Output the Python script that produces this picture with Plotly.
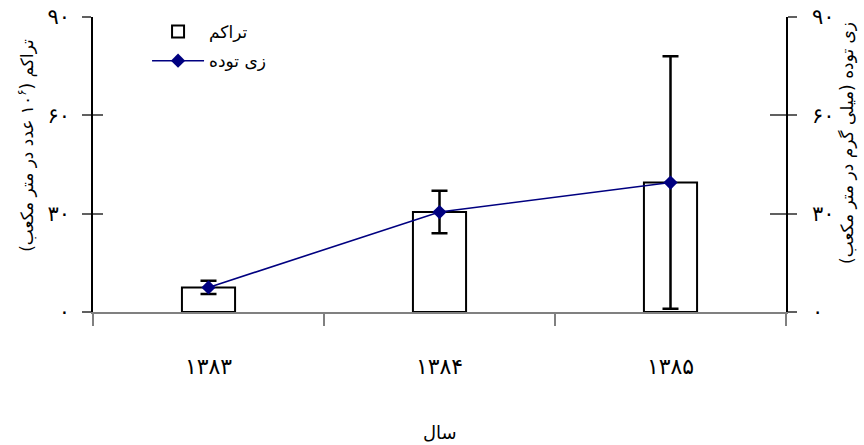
import plotly.graph_objects as go

years = ["۱۳۸۳", "۱۳۸۴", "۱۳۸۵"]
density = [7.5, 30.5, 39.5]          # تراکم (bars, left axis)
biomass = [7.5, 30.5, 39.5]          # زی توده (line, right axis)
biomass_err = [2.0, 6.5, 38.5]
ytick_vals = [0, 30, 60, 90]
ytick_text = ["۰", "۳۰", "۶۰", "۹۰"]

xpos = list(range(len(years)))
FONT = "DejaVu Sans"

fig = go.Figure()
fig.add_trace(go.Bar(
    x=xpos, y=density, name="تراکم", width=0.23, legendgroup="a",
    marker=dict(color="white", line=dict(color="black", width=2)),
    yaxis="y",
))
fig.add_trace(go.Scatter(
    x=xpos, y=biomass, name="زی توده", mode="lines+markers", legendgroup="b",
    line=dict(color="#000080", width=1.6),
    marker=dict(symbol="diamond", size=11, color="#000080"),
    error_y=dict(type="data", array=biomass_err, color="black", thickness=2.5, width=8),
    yaxis="y2",
))
# invisible helper traces for inside tick overlays
fig.add_trace(go.Scatter(x=xpos, y=biomass, xaxis="x2", yaxis="y3", mode="none",
                         showlegend=False, hoverinfo="skip"))
fig.add_trace(go.Scatter(x=xpos, y=biomass, xaxis="x2", yaxis="y4", mode="none",
                         showlegend=False, hoverinfo="skip"))

xr = [-0.5, len(years) - 0.5]
bounds = [i - 0.5 for i in range(len(years) + 1)]

fig.update_layout(
    width=864, height=445,
    margin=dict(l=93, r=78, t=17, b=133, autoexpand=False),
    paper_bgcolor="white", plot_bgcolor="white",
    font=dict(family=FONT, size=16, color="black"),
    showlegend=True,
    legend=dict(x=0.078, y=1.01, xanchor="left", yanchor="top",
                bgcolor="rgba(0,0,0,0)", itemwidth=52, traceorder="grouped",
                font=dict(size=17), tracegroupgap=4),
    xaxis=dict(range=xr, tickmode="array", tickvals=xpos, ticktext=years,
               showline=True, linecolor="#808080", linewidth=2, automargin=False,
               showgrid=False, zeroline=False, ticks="", ticklabelstandoff=34,
               tickfont=dict(size=22)),
    xaxis2=dict(range=xr, overlaying="x", anchor="y", tickmode="array", automargin=False,
                tickvals=bounds, ticks="outside", ticklen=13, tickcolor="#808080",
                tickwidth=1.5, showticklabels=False, showgrid=False,
                zeroline=False, showline=False),
    yaxis=dict(range=[0, 90], tickmode="array", tickvals=ytick_vals, ticktext=ytick_text,
               showline=True, linecolor="black", linewidth=1.5, ticks="outside",
               ticklen=9, tickcolor="#606060", tickwidth=1.5, showgrid=False,
               zeroline=False, ticklabelstandoff=8, tickfont=dict(size=21),
               automargin=False),
    yaxis2=dict(range=[0, 90], overlaying="y", side="right", tickmode="array",
                tickvals=ytick_vals, ticktext=ytick_text, showline=True,
                linecolor="black", linewidth=1.5, ticks="outside", ticklen=9,
                tickcolor="#606060", tickwidth=1.5, showgrid=False, zeroline=False,
                ticklabelstandoff=11, tickfont=dict(size=21), automargin=False),
    yaxis3=dict(range=[0, 90], overlaying="y", side="left", anchor="x2",
                tickmode="array", tickvals=ytick_vals, ticks="inside", ticklen=10,
                tickcolor="#606060", tickwidth=1.5, showticklabels=False,
                showgrid=False, zeroline=False, showline=False, automargin=False),
    yaxis4=dict(range=[0, 90], overlaying="y", side="right", anchor="x2",
                tickmode="array", tickvals=ytick_vals, ticks="inside", ticklen=16,
                tickcolor="#606060", tickwidth=1.5, showticklabels=False,
                showgrid=False, zeroline=False, showline=False, automargin=False),
    annotations=[
        dict(text="تراکم (۱۰<sup>۶</sup> عدد در متر مکعب)", textangle=-90,
             xref="paper", yref="paper", x=-0.097, y=0.566,
             xanchor="center", yanchor="middle",
             showarrow=False, font=dict(size=17)),
        dict(text="زی توده (میلی گرم در متر مکعب)", textangle=-90,
             xref="paper", yref="paper", x=1.088, y=0.573,
             xanchor="center", yanchor="middle",
             showarrow=False, font=dict(size=17)),
        dict(text="سال", xref="paper", yref="paper", x=0.5007, y=-0.407,
             xanchor="center", yanchor="middle",
             showarrow=False, font=dict(size=18)),
    ],
)

fig.write_html("out.html", config={"displayModeBar": False},
               post_script="document.body.style.margin='0';")
